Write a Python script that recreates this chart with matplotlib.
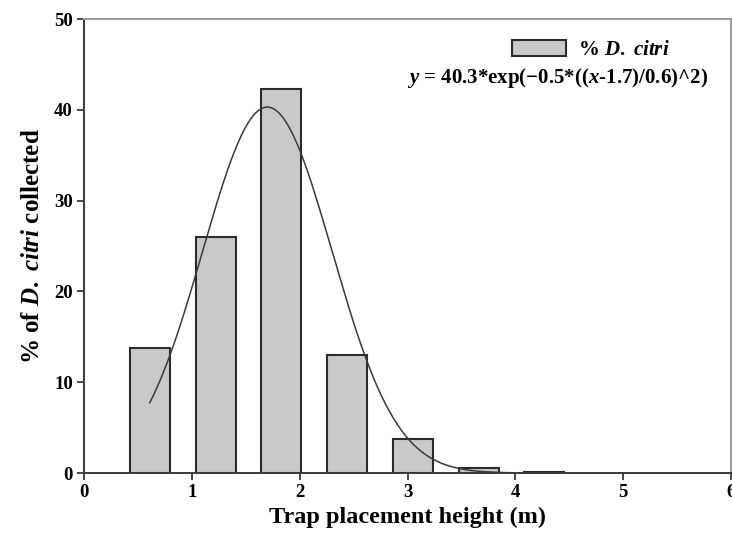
import numpy as np
import matplotlib.pyplot as plt
from matplotlib.patches import Patch

plt.rcParams['font.family'] = 'Liberation Serif'
plt.rcParams['font.weight'] = 'bold'
plt.rcParams['mathtext.fontset'] = 'custom'
plt.rcParams['mathtext.rm'] = 'Liberation Serif:bold'
plt.rcParams['mathtext.it'] = 'Liberation Serif:italic:bold'
plt.rcParams['mathtext.bf'] = 'Liberation Serif:bold'

# trap heights (m) and % of D. citri collected
heights = [0.61, 1.22, 1.83, 2.44, 3.05, 3.66, 4.27]
pct_collected = [13.8, 26.0, 42.3, 13.0, 3.7, 0.6, 0.1]

# gaussian fit as printed in the legend
fit_a = 40.3
fit_x0 = 1.7
fit_b = 0.6

xfit = np.linspace(heights[0], heights[-1], 200)
yfit = fit_a * np.exp(-0.5 * ((xfit - fit_x0) / fit_b) ** 2)

fig = plt.figure(figsize=(7.32, 5.43), dpi=100)
ax = fig.add_axes([0.1148, 0.1289, 0.8838, 0.8361])

ax.bar(heights, pct_collected, width=0.37, color='#c8c9cb',
       edgecolor='#2b2b2b', linewidth=1.5, zorder=2)
ax.plot(xfit, yfit, color='#3a3a3a', linewidth=1.1, zorder=3)

ax.set_xlim(0, 6)
ax.set_ylim(0, 50)
ax.set_xticks(range(0, 7))
ax.set_yticks(range(0, 51, 10))
ax.tick_params(direction='out', length=5, width=1.3, color='#3a3a3a',
               labelsize=13.5, pad=3)
for s in ax.spines.values():
    s.set_color('#3a3a3a')
    s.set_linewidth(1.4)
ax.spines['top'].set_color('#9a9a9a')
ax.spines['right'].set_color('#9a9a9a')

ax.set_xlabel('Trap placement height (m)', fontsize=17.5, fontweight='bold',
              labelpad=4)
ax.set_ylabel(r'% of $\mathit{D.\ citri}$ collected', fontsize=18,
              fontweight='bold', labelpad=7)

handle = Patch(facecolor='#c8c9cb', edgecolor='#2b2b2b', linewidth=1.5)
leg = ax.legend([handle], [r'% $\mathit{D.\ citri}$'], loc='upper right',
                bbox_to_anchor=(0.935, 0.995), frameon=False, fontsize=15,
                handlelength=2.6, handleheight=0.8, handletextpad=0.6)
ax.text(0.965, 0.87, r'$y$ = 40.3*exp($-$0.5*(($x$-1.7)/0.6)^2)',
        transform=ax.transAxes, ha='right', va='center', fontsize=15,
        fontweight='bold')

fig.savefig('out.png', dpi=100)
